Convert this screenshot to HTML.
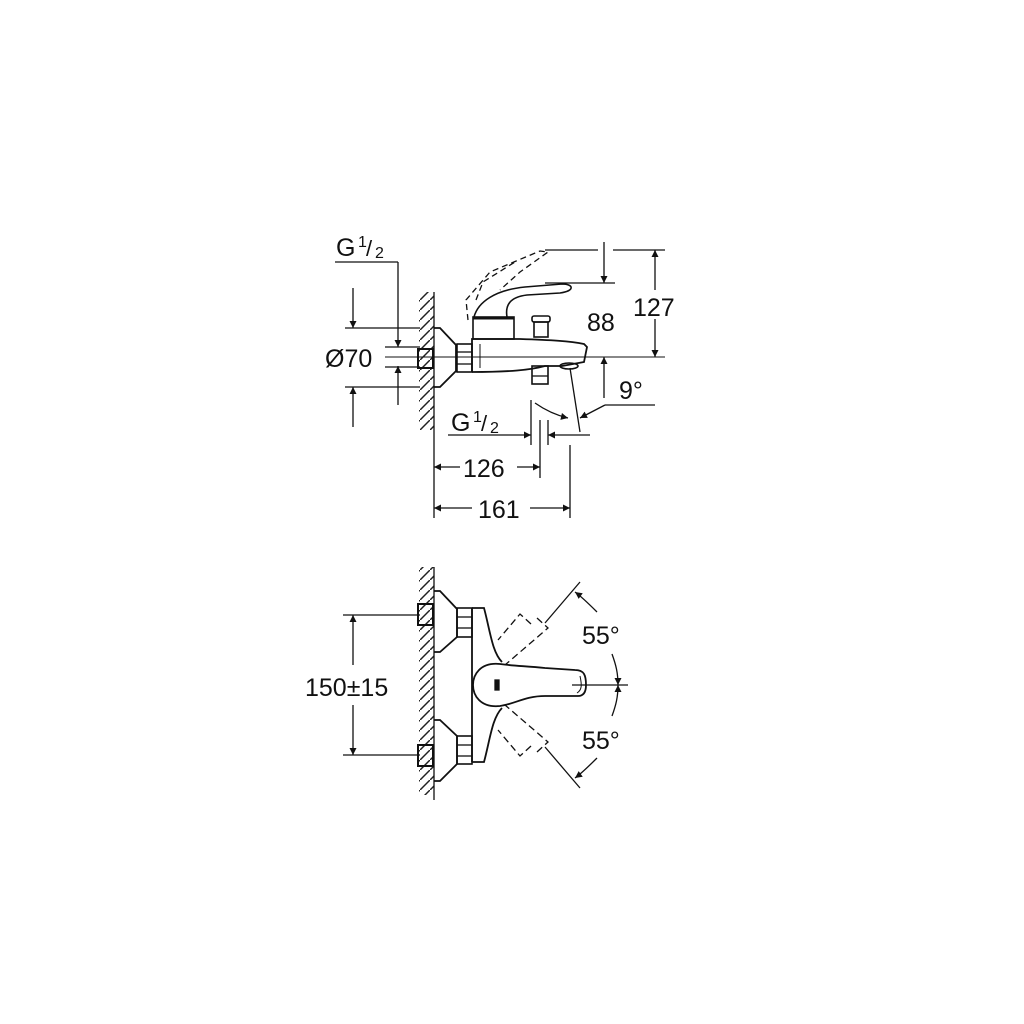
<!DOCTYPE html>
<html><head><meta charset="utf-8"><style>
html,body{margin:0;padding:0;background:#fff}
svg{display:block}
text{font-family:"Liberation Sans",sans-serif;fill:#111}
</style></head><body>
<svg width="1024" height="1024" viewBox="0 0 1024 1024" xmlns="http://www.w3.org/2000/svg">
<defs>
<marker id="a" viewBox="0 0 10 10" refX="10" refY="5" markerWidth="16" markerHeight="7" markerUnits="userSpaceOnUse" orient="auto"><path d="M0,0L10,5L0,10z" fill="#111"/></marker>
<pattern id="h" width="10" height="10" patternUnits="userSpaceOnUse"><path d="M-1,11L11,-1" stroke="#222" stroke-width="1.5"/></pattern>
</defs>
<g stroke="#111" fill="none" stroke-width="1.3">
<!-- TOP VIEW -->
<rect x="419" y="292" width="15" height="138" fill="url(#h)" stroke="none"/>
<line x1="434" y1="292" x2="434" y2="518"/>
<line x1="335" y1="262" x2="398" y2="262"/>
<line x1="398" y1="262" x2="398" y2="347" marker-end="url(#a)"/>
<line x1="398" y1="405" x2="398" y2="366" marker-end="url(#a)"/>
<line x1="345" y1="328" x2="420" y2="328"/>
<line x1="345" y1="387" x2="420" y2="387"/>
<line x1="353" y1="288" x2="353" y2="328" marker-end="url(#a)"/>
<line x1="353" y1="427" x2="353" y2="387" marker-end="url(#a)"/>
<line x1="385" y1="347" x2="420" y2="347"/>
<line x1="385" y1="367" x2="420" y2="367"/>
<rect x="418" y="349" width="15" height="19" stroke-width="2"/>
<line x1="385" y1="357" x2="665" y2="357" stroke-width="1"/>
<path d="M434,328 L440,328 L456,345 L456,371 L440,387 L434,387" stroke-width="1.8"/>
<rect x="457" y="344" width="15" height="28" stroke-width="1.6"/>
<line x1="457" y1="352" x2="472" y2="352"/><line x1="457" y1="364" x2="472" y2="364"/>
<path d="M472,372 L472,339 L520,339 C550,340 570,341 584,344 L587,347 L584,362 L562,366 L545,366 C530,370 510,372 472,372" stroke-width="1.8"/>
<path d="M480,344 L480,368" stroke-width="1"/>
<ellipse cx="569" cy="366" rx="9" ry="3" stroke-width="1.6"/>
<rect x="473" y="317" width="41" height="22" stroke-width="1.6"/>
<line x1="473" y1="318" x2="514" y2="318" stroke-width="3"/>
<path d="M474,317 C478,302 495,290 525,287 L562,284 C574,284 575,291 560,293 L527,295 C510,297 505,305 507,317" stroke-width="1.6"/>
<path d="M468,320 L466,300 L490,272 L540,251 L548,252 L520,272 L500,290 M476,300 L483,282 L515,262" stroke-dasharray="6,4" stroke-width="1.3"/>
<rect x="534" y="322" width="14" height="15" stroke-width="1.6"/>
<rect x="532" y="316" width="18" height="6" rx="2" stroke-width="1.6"/>
<rect x="532" y="366" width="16" height="18" stroke-width="1.6"/>
<line x1="532" y1="376" x2="548" y2="376"/>
<line x1="545" y1="250" x2="598" y2="250"/>
<line x1="613" y1="250" x2="665" y2="250"/>
<line x1="545" y1="283" x2="615" y2="283"/>
<line x1="604" y1="242" x2="604" y2="283" marker-end="url(#a)"/>
<line x1="604" y1="398" x2="604" y2="357" marker-end="url(#a)"/>
<line x1="655" y1="290" x2="655" y2="250" marker-end="url(#a)"/>
<line x1="655" y1="319" x2="655" y2="357" marker-end="url(#a)"/>
<text x="587" y="331" font-size="25" stroke="none">88</text>
<text x="633" y="316" font-size="25" stroke="none">127</text>
<line x1="570" y1="368" x2="580" y2="432"/>
<line x1="655" y1="405" x2="605" y2="405"/>
<line x1="605" y1="405" x2="580" y2="418" marker-end="url(#a)"/>
<path d="M535,403 C545,410 555,415 568,418" marker-end="url(#a)"/>
<text x="619" y="399" font-size="25" stroke="none">9°</text>
<line x1="531" y1="400" x2="531" y2="445"/>
<line x1="540" y1="420" x2="540" y2="478"/>
<line x1="548" y1="420" x2="548" y2="445"/>
<line x1="570" y1="445" x2="570" y2="518"/>
<line x1="448" y1="435" x2="531" y2="435" marker-end="url(#a)"/>
<line x1="590" y1="435" x2="548" y2="435" marker-end="url(#a)"/>
<line x1="460" y1="467" x2="434" y2="467" marker-end="url(#a)"/>
<line x1="517" y1="467" x2="540" y2="467" marker-end="url(#a)"/>
<line x1="472" y1="508" x2="434" y2="508" marker-end="url(#a)"/>
<line x1="530" y1="508" x2="570" y2="508" marker-end="url(#a)"/>
<text x="463" y="477" font-size="25" stroke="none">126</text>
<text x="478" y="518" font-size="25" stroke="none">161</text>
<!-- BOTTOM VIEW -->
<rect x="419" y="567" width="15" height="228" fill="url(#h)" stroke="none"/>
<line x1="434" y1="567" x2="434" y2="800"/>
<line x1="343" y1="615" x2="420" y2="615"/>
<line x1="343" y1="755" x2="420" y2="755"/>
<line x1="353" y1="665" x2="353" y2="615" marker-end="url(#a)"/>
<line x1="353" y1="705" x2="353" y2="755" marker-end="url(#a)"/>
<text x="305" y="696" font-size="25" stroke="none">150±15</text>
<rect x="418" y="604" width="15" height="21" stroke-width="2"/>
<rect x="418" y="745" width="15" height="21" stroke-width="2"/>
<path d="M434,591 L440,591 L457,609 L457,637 L440,652 L434,652" stroke-width="1.8"/>
<path d="M434,720 L440,720 L457,736 L457,764 L440,781 L434,781" stroke-width="1.8"/>
<rect x="457" y="608" width="15" height="29" stroke-width="1.6"/>
<line x1="457" y1="617" x2="472" y2="617"/><line x1="457" y1="628" x2="472" y2="628"/>
<rect x="457" y="736" width="15" height="28" stroke-width="1.6"/>
<line x1="457" y1="745" x2="472" y2="745"/><line x1="457" y1="756" x2="472" y2="756"/>
<path d="M472,608 L484,608 C490,630 492,652 502,662" stroke-width="1.8"/>
<path d="M502,708 C492,718 490,740 484,762 L472,762" stroke-width="1.8"/>
<line x1="472" y1="608" x2="472" y2="762" stroke-width="1.8"/>
<path d="M500,664 C480,662 473,675 473,685 C473,695 480,708 500,706 C515,704 525,696 545,696 L578,696 C585,696 586,690 586,685 C586,675 584,670 575,670 L545,668 C525,666 515,666 500,664 Z" stroke-width="1.8"/>
<path d="M580,676 C582,685 582,690 577,693" stroke-width="1"/>
<rect x="495" y="680" width="4" height="10" fill="#111"/>
<line x1="580" y1="582" x2="545" y2="623"/>
<line x1="580" y1="788" x2="545" y2="747"/>
<path d="M537,618 L548,628 L505,665 M531,624 L520,614 L498,640" stroke-dasharray="7,4"/>
<path d="M537,752 L548,742 L505,705 M531,746 L520,756 L498,730" stroke-dasharray="7,4"/>
<line x1="572" y1="685" x2="628" y2="685"/>
<path d="M597,612 C588,603 582,597 575,592" marker-end="url(#a)"/>
<path d="M612,654 C616,665 618,673 618,685" marker-end="url(#a)"/>
<path d="M612,716 C616,705 618,697 618,685" marker-end="url(#a)"/>
<path d="M597,758 C588,767 582,773 575,778" marker-end="url(#a)"/>
<text x="582" y="644" font-size="25" stroke="none">55°</text>
<text x="582" y="749" font-size="25" stroke="none">55°</text>
</g>
<text x="336" y="256" font-size="25">G</text><text x="358" y="247" font-size="16">1</text><text x="366" y="256" font-size="22">/</text><text x="375" y="258" font-size="16">2</text>
<text x="451" y="431" font-size="25">G</text><text x="473" y="422" font-size="16">1</text><text x="481" y="431" font-size="22">/</text><text x="490" y="433" font-size="16">2</text>
<text x="325" y="367" font-size="25">Ø70</text>
</svg>
</body></html>
